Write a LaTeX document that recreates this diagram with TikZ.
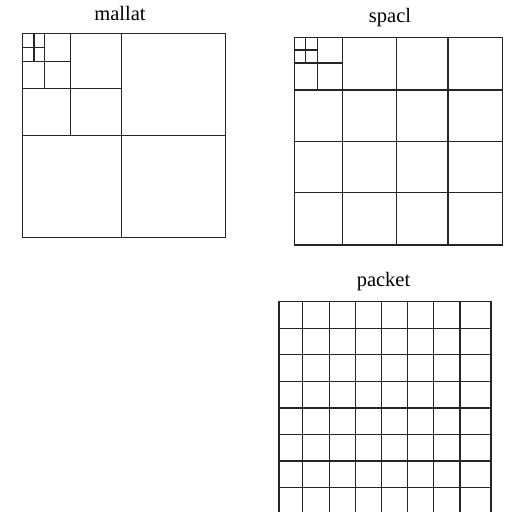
\documentclass[tikz,border=0pt]{standalone}
\usepackage{fontspec}
\setmainfont{Liberation Serif}
\begin{document}
\begin{tikzpicture}[x=1pt,y=-1pt,
  gridline/.style={draw=black!85,line width=1.1pt},
  ttl/.style={anchor=base,inner sep=0pt,font=\fontsize{20.5}{24}\selectfont}]
\useasboundingbox (0,0) rectangle (506,512);
\clip (0,0) rectangle (506,512);
% titles
\node[ttl] (tm) at (120,20.5) {mallat};
\node[ttl] (ts) at (390,22) {spacl};
\node[ttl] (tp) at (383.5,286.5) {packet};
% mallat
\draw[gridline] (22.3,33.3) rectangle (225.3,237.3);
\draw[gridline] (121.3,33.3) -- (121.3,237.3);
\draw[gridline] (22.3,135.7) -- (225.3,135.7);
\draw[gridline] (70.3,33.3) -- (70.3,135.7);
\draw[gridline] (22.3,88.7) -- (121.3,88.7);
\draw[gridline] (44.8,33.3) -- (44.8,88.7);
\draw[gridline] (22.3,61.2) -- (70.3,61.2);
\draw[gridline] (34,33.3) -- (34,61.2);
\draw[gridline] (22.3,47.5) -- (44.8,47.5);
% spacl
\draw[gridline] (294.3,37.7) rectangle (502.3,245);
\foreach \x in {342.3,396.3,448} \draw[gridline] (\x,37.7) -- (\x,245);
\foreach \y in {90,141.7,192.7} \draw[gridline] (294.3,\y) -- (502.3,\y);
\draw[gridline] (317.3,37.7) -- (317.3,90);
\draw[gridline] (294.3,63) -- (342.3,63);
\draw[gridline] (305.3,37.7) -- (305.3,63);
\draw[gridline] (294.3,50) -- (317.3,50);
% packet
\draw[gridline] (279,301.3) rectangle (491,513.5);
\foreach \x in {302.7,329.3,355.7,381.3,407.3,433.7,460} \draw[gridline] (\x,301.3) -- (\x,513.5);
\foreach \y in {328.3,354.7,381.3,408,434.3,461,487.7} \draw[gridline] (279,\y) -- (491,\y);
\end{tikzpicture}
\end{document}
